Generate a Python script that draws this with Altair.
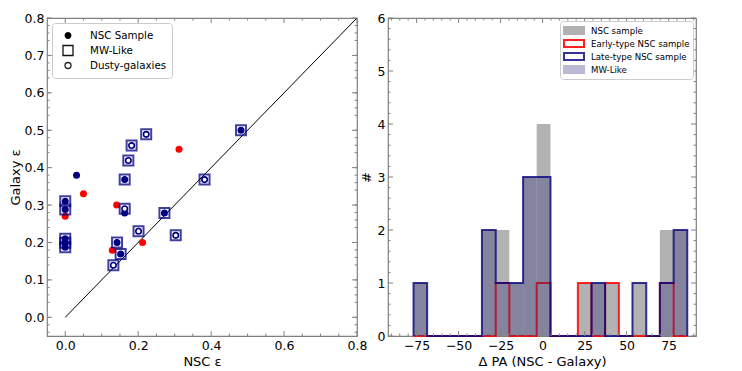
import altair as alt
import pandas as pd

# ---------------- Left panel data (NSC eps vs Galaxy eps) ----------------
nsc_x = [0.031, 0.0, 0.0, 0.0, 0.0, 0.0, 0.163, 0.163, 0.142, 0.152, 0.272, 0.482]
nsc_y = [0.380, 0.310, 0.288, 0.210, 0.199, 0.187, 0.368, 0.279, 0.200, 0.169, 0.279, 0.500]
early_x = [0.0, 0.050, 0.141, 0.129, 0.212, 0.312]
early_y = [0.270, 0.330, 0.300, 0.179, 0.200, 0.449]
mw_x = [0.0, 0.0, 0.0, 0.0, 0.0, 0.163, 0.163, 0.142, 0.152, 0.132, 0.201,
        0.272, 0.303, 0.382, 0.482, 0.173, 0.182, 0.222]
mw_y = [0.310, 0.288, 0.210, 0.199, 0.187, 0.368, 0.290, 0.200, 0.169, 0.139, 0.230,
        0.279, 0.219, 0.368, 0.500, 0.419, 0.459, 0.489]
dusty_x = [0.163, 0.132, 0.201, 0.303, 0.382, 0.173, 0.182, 0.222]
dusty_y = [0.290, 0.139, 0.230, 0.219, 0.368, 0.419, 0.459, 0.489]
diag = [0.0, 0.8]
left_legend = ["NSC Sample", "MW-Like", "Dusty-galaxies"]

# ---------------- Right panel data (histogram of Delta PA) ----------------
bin_edges = [-76.8, -68.7, -60.5, -52.4, -44.2, -36.1, -27.9, -19.8, -11.6, -3.5,
             4.7, 12.8, 21.0, 29.1, 37.2, 45.4, 53.5, 61.7, 69.8, 78.0, 86.1]
cnt_nsc = [1, 0, 0, 0, 0, 2, 2, 1, 3, 4, 0, 0, 1, 1, 1, 0, 1, 0, 2, 2]
cnt_early = [0, 0, 0, 0, 0, 0, 1, 0, 0, 1, 0, 0, 1, 0, 1, 0, 0, 0, 1, 0]
cnt_late = [1, 0, 0, 0, 0, 2, 1, 1, 3, 3, 0, 0, 0, 1, 0, 0, 1, 0, 1, 2]
cnt_mw = [1, 0, 0, 0, 0, 2, 1, 1, 3, 3, 0, 0, 0, 1, 0, 0, 0, 0, 1, 2]
right_legend = ["NSC sample", "Early-type NSC sample", "Late-type NSC sample", "MW-Like"]

# tick lists
lx_major = [0.0, 0.2, 0.4, 0.6, 0.8]
lx_minor = [0.05, 0.1, 0.15, 0.25, 0.3, 0.35, 0.45, 0.5, 0.55, 0.65, 0.7, 0.75]
ly_major = [0.0, 0.1, 0.2, 0.3, 0.4, 0.5, 0.6, 0.7, 0.8]
ly_minor = [round(-0.04 + 0.02 * i, 2) for i in range(42) if (i + 2) % 5 != 0]
rx_major = [-75, -50, -25, 0, 25, 50, 75]
rx_minor = [v for v in range(-90, 95, 5) if v % 25 != 0]
ry_major = [0, 1, 2, 3, 4, 5, 6]
ry_minor = [round(0.2 * i, 1) for i in range(31) if i % 5 != 0]

FONT = "DejaVu Sans"
SPINE = "#808080"
NAVY = "#000080"
LW, RW, H = 310, 308, 318
MAJ, MIN = 5, 2.5


def axis(values, title, fmt=None, flush=False, tpad=4):
    kw = dict(values=values, title=title, grid=False, domain=False, ticks=False,
              labelFont=FONT, labelFontSize=12.5, labelColor="black", labelPadding=3,
              titleFont=FONT, titleFontSize=13, titleFontWeight="normal", titleColor="black",
              titlePadding=tpad, labelFlush=flush)
    if fmt:
        kw["format"] = fmt
    return alt.Axis(**kw)


def tick_layers(xs, ys, xax, yax, xmaj, xmin, ymaj, ymin, W, xtitle, ytitle):
    layers = []
    for vals, ln in ((xmaj, MAJ), (xmin, MIN)):
        d = pd.DataFrame({"tv": vals})
        X = alt.X("tv:Q", scale=xs, axis=xax, title=xtitle)
        layers.append(alt.Chart(d).mark_rule(color=SPINE, strokeWidth=1).encode(
            x=X, y=alt.value(H), y2=alt.value(H - ln)))
        layers.append(alt.Chart(d).mark_rule(color=SPINE, strokeWidth=1).encode(
            x=X, y=alt.value(0), y2=alt.value(ln)))
    for vals, ln in ((ymaj, MAJ), (ymin, MIN)):
        d = pd.DataFrame({"tv": vals})
        Y = alt.Y("tv:Q", scale=ys, axis=yax, title=ytitle)
        layers.append(alt.Chart(d).mark_rule(color=SPINE, strokeWidth=1).encode(
            y=Y, x=alt.value(0), x2=alt.value(ln)))
        layers.append(alt.Chart(d).mark_rule(color=SPINE, strokeWidth=1).encode(
            y=Y, x=alt.value(W), x2=alt.value(W - ln)))
    return layers


# ---------------- Left panel ----------------
lxs = alt.Scale(domain=[-0.05, 0.8], nice=False, zero=False)
lys = alt.Scale(domain=[-0.05, 0.8], nice=False, zero=False)
lxa = axis(lx_major, "NSC ε", ".1f")
lya = axis(ly_major, "Galaxy ε", ".1f", tpad=2)
XT, YT = "NSC ε", "Galaxy ε"


def LX(f):
    return alt.X(f + ":Q", scale=lxs, axis=lxa, title=XT)


def LY(f):
    return alt.Y(f + ":Q", scale=lys, axis=lya, title=YT)


line = alt.Chart(pd.DataFrame({"x": diag, "y": diag})).mark_line(
    color="black", strokeWidth=1).encode(x=LX("x"), y=LY("y"))
red = alt.Chart(pd.DataFrame({"x": early_x, "y": early_y})).mark_circle(
    color="red", size=49, opacity=1).encode(x=LX("x"), y=LY("y"))
blue = alt.Chart(pd.DataFrame({"x": nsc_x, "y": nsc_y})).mark_circle(
    color=NAVY, size=49, opacity=1).encode(x=LX("x"), y=LY("y"))
squares = alt.Chart(pd.DataFrame({"x": mw_x, "y": mw_y})).mark_point(
    shape="square", filled=False, stroke=NAVY, strokeWidth=2, opacity=0.75, size=100
).encode(x=LX("x"), y=LY("y"))
dusty = alt.Chart(pd.DataFrame({"x": dusty_x, "y": dusty_y})).mark_point(
    shape="circle", filled=True, fill="white", stroke=NAVY, strokeWidth=1.6, opacity=1, size=30
).encode(x=LX("x"), y=LY("y"))

DOT = "M-0.55,0A0.55,0.55 0 1,0 0.55,0A0.55,0.55 0 1,0 -0.55,0Z"
SQ = "M-1,-1H1V1H-1Z"
RING = "M-0.6,0A0.6,0.6 0 1,0 0.6,0A0.6,0.6 0 1,0 -0.6,0Z"
L1 = alt.Legend(title=None, orient="top-left", offset=5, fillColor="white",
                strokeColor="#cccccc", cornerRadius=3, padding=5, rowPadding=0,
                clipHeight=15, symbolSize=100, symbolOffset=5,
                labelFont=FONT, labelFontSize=10.3, labelColor="black", labelOffset=16,
                symbolStrokeWidth=1.3)
leg1_df = pd.DataFrame({"k": left_legend})
leg1 = alt.Chart(leg1_df).mark_point(color="black", opacity=1, clip=True, strokeWidth=1.3, size=100).encode(
    x=alt.value(-300), y=alt.value(-300),
    shape=alt.Shape("k:N", scale=alt.Scale(domain=left_legend, range=[DOT, SQ, RING]), legend=L1),
    fill=alt.Fill("k:N", scale=alt.Scale(domain=left_legend, range=["black", "white", "white"]), legend=L1),
    stroke=alt.Stroke("k:N", scale=alt.Scale(domain=left_legend, range=["black", "#111111", "#222222"]), legend=L1),
)

left = alt.layer(
    line, red, blue, squares, dusty,
    *tick_layers(lxs, lys, lxa, lya, lx_major, lx_minor, ly_major, ly_minor, LW, XT, YT),
    leg1,
).properties(width=LW, height=H)

# ---------------- Right panel ----------------
rxs = alt.Scale(domain=[-92, 91.3], nice=False, zero=False)
rys = alt.Scale(domain=[0, 6], nice=False, zero=False)
rxa = axis(rx_major, "Δ PA (NSC - Galaxy)")
rya = axis(ry_major, "#")
RXT, RYT = "Δ PA (NSC - Galaxy)", "#"


def RX(f):
    return alt.X(f + ":Q", scale=rxs, axis=rxa, title=RXT)


def RY(f):
    return alt.Y(f + ":Q", scale=rys, axis=rya, title=RYT)


def bars(counts):
    return pd.DataFrame({"x0": bin_edges[:-1], "x1": bin_edges[1:], "c": counts,
                         "b": [0] * len(counts)}).query("c > 0")


def steps(counts):
    xs = [bin_edges[0]] + bin_edges[:-1] + [bin_edges[-1], bin_edges[-1]]
    ys = [0] + counts + [counts[-1], 0]
    return pd.DataFrame({"ex": xs, "ey": ys, "i": list(range(len(xs)))})


gray = alt.Chart(bars(cnt_nsc)).mark_rect(color="#b2b2b2").encode(
    x=RX("x0"), x2="x1", y=RY("c"), y2="b")
red_step = alt.Chart(steps(cnt_early)).mark_line(
    color="red", strokeWidth=2, interpolate="step-after", opacity=0.85).encode(
    x=RX("ex"), y=RY("ey"), order="i:Q")
blue_step = alt.Chart(steps(cnt_late)).mark_line(
    color=NAVY, strokeWidth=2, interpolate="step-after", opacity=0.8).encode(
    x=RX("ex"), y=RY("ey"), order="i:Q")
mw_bars = alt.Chart(bars(cnt_mw)).mark_rect(color="#191970", opacity=0.3).encode(
    x=RX("x0"), x2="x1", y=RY("c"), y2="b")

RECT = "M-1,-0.35H1V0.35H-1Z"
L2 = alt.Legend(title=None, orient="top-right", offset=3, fillColor="white",
                strokeColor="#cccccc", cornerRadius=3, padding=3, rowPadding=0,
                clipHeight=13,
                labelFont=FONT, labelFontSize=8.6, labelColor="black", labelOffset=6,
                symbolType=RECT, symbolSize=400, symbolStrokeWidth=2)
leg2 = alt.Chart(pd.DataFrame({"s": right_legend})).mark_point(
    shape=RECT, filled=True, opacity=1, clip=True, size=400).encode(
    x=alt.value(-300), y=alt.value(-300),
    fill=alt.Fill("s:N", scale=alt.Scale(domain=right_legend,
                  range=["#b2b2b2", "white", "white", "#babad4"]), legend=L2),
    stroke=alt.Stroke("s:N", scale=alt.Scale(domain=right_legend,
                      range=["#b2b2b2", "#ff2020", "#333399", "#babad4"]), legend=L2),
)

right = alt.layer(
    gray, red_step, blue_step, mw_bars,
    *tick_layers(rxs, rys, rxa, rya, rx_major, rx_minor, ry_major, ry_minor, RW, RXT, RYT),
    leg2,
).properties(width=RW, height=H)

chart = alt.hconcat(left, right, spacing=31, bounds="flush").resolve_scale(
    fill="independent", stroke="independent", shape="independent"
).resolve_legend(
    fill="independent", stroke="independent", shape="independent"
).properties(
    padding={"left": 0, "top": 3, "right": 5, "bottom": 0}, background="white"
).configure_view(stroke=SPINE, strokeWidth=1.2)

chart.save("out.html", embed_options={"renderer": "svg", "actions": False})
